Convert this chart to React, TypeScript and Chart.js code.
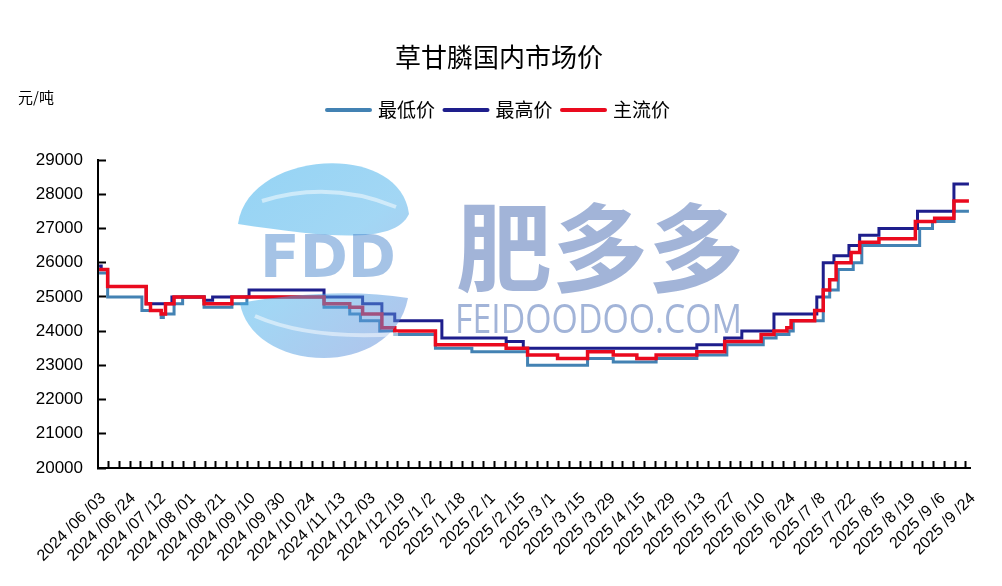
import React, { useEffect, useRef } from 'react';
import { Chart, registerables } from 'chart.js';

Chart.register(...registerables);

const chartTitle = '草甘膦国内市场价';
const unitLabel = '元/吨';
const seriesNames = ['最低价', '最高价', '主流价'];
const seriesColors = ['#4382B3', '#1E1E8C', '#EA0A1E'];
const seriesWidths = [3, 3, 3.5];

const dateLabels = [
  '2024/06/03', '2024/06/24', '2024/07/12', '2024/08/01', '2024/08/21', '2024/09/10',
  '2024/09/30', '2024/10/24', '2024/11/13', '2024/12/03', '2024/12/19', '2025/1/2',
  '2025/1/18', '2025/2/1', '2025/2/15', '2025/3/1', '2025/3/15', '2025/3/29',
  '2025/4/15', '2025/4/29', '2025/5/13', '2025/5/27', '2025/6/10', '2025/6/24',
  '2025/7/8', '2025/7/22', '2025/8/5', '2025/8/19', '2025/9/6', '2025/9/24',
];
const slotCount = 407; // daily category slots on the axis
const labelStep = 14; // one date label every 14 slots
const tickStep = 5; // one tick mark every 5 slots

const yMin = 20000;
const yMax = 29000;
const yStep = 1000;

// change points: [slot, price from that slot on]
const lowSteps: [number, number][] = [
  [0, 25700], [4, 25000], [20, 24600], [29, 24400], [30, 24500], [35, 24800],
  [39, 25000], [49, 24700], [62, 24800], [69, 25000], [105, 24700], [117, 24500], [122, 24300],
  [131, 24000], [138, 23900], [157, 23500], [174, 23400], [200, 23000], [228, 23200], [240, 23100],
  [260, 23200], [279, 23300], [293, 23600], [310, 23800], [316, 23900], [322, 24000],
  [324, 24300], [338, 25000], [341, 25200], [345, 25800], [352, 26000], [356, 26500],
  [383, 27000], [389, 27200], [399, 27500], [406, 27500],
];
const highSteps: [number, number][] = [
  [0, 25900], [1, 25800], [4, 25300], [22, 24800], [34, 25000], [49, 24900], [53, 25000],
  [70, 25200], [105, 25000], [123, 24800], [132, 24500], [138, 24300], [160, 23800],
  [190, 23700], [198, 23500], [279, 23600], [292, 23800], [300, 24000], [315, 24500],
  [335, 25000], [338, 26000], [343, 26200], [350, 26500], [355, 26800], [364, 27000],
  [382, 27500], [399, 28300], [406, 28300],
];
const mainSteps: [number, number][] = [
  [0, 25800], [4, 25300], [22, 24800], [24, 24600], [29, 24500], [31, 24800], [35, 25000],
  [49, 24800], [62, 25000], [105, 24800], [117, 24700], [123, 24500], [132, 24100],
  [138, 24000], [157, 23600], [190, 23500], [200, 23300], [214, 23200], [228, 23400],
  [240, 23300], [251, 23200], [260, 23300], [279, 23400], [292, 23700], [309, 23900],
  [315, 24000], [321, 24100], [323, 24300], [334, 24600], [338, 25200], [341, 25500],
  [344, 26000], [351, 26300], [355, 26600], [364, 26700], [381, 27200], [390, 27300],
  [399, 27800], [406, 27800],
];

const seriesSteps = [lowSteps, highSteps, mainSteps];

const labelSlots = dateLabels.map((_, i) => i * labelStep);
const boundarySlots: number[] = [];
for (let b = tickStep; b < slotCount; b += tickStep) boundarySlots.push(b - 0.5);
const xTickValues = [...labelSlots, ...boundarySlots].sort((a, b) => a - b);

const labelText = (v: number) => {
  if (!Number.isInteger(v) || v % labelStep !== 0) return '';
  const s = dateLabels[v / labelStep];
  return s ? s.split('/').join(' /') : '';
};

const CJK = '"Noto Sans CJK SC", "Noto Sans", sans-serif';
const NUM = '"Liberation Sans", Arial, sans-serif';

function drawWatermark(ctx: CanvasRenderingContext2D) {
  ctx.save();
  ctx.globalAlpha = 0.5;
  const grad = ctx.createLinearGradient(240, 165, 405, 355);
  grad.addColorStop(0, 'rgb(45,170,235)');
  grad.addColorStop(0.5, 'rgb(70,175,235)');
  grad.addColorStop(1, 'rgb(100,135,215)');
  // top leaf
  ctx.beginPath();
  ctx.moveTo(238, 224);
  ctx.bezierCurveTo(248, 150, 400, 140, 409, 214);
  ctx.bezierCurveTo(395, 244, 330, 238, 238, 224);
  ctx.closePath();
  ctx.fillStyle = grad;
  ctx.fill();
  ctx.strokeStyle = '#fff';
  ctx.lineWidth = 4;
  ctx.beginPath();
  ctx.moveTo(262, 201);
  ctx.quadraticCurveTo(330, 180, 396, 207);
  ctx.stroke();
  // bottom bowl
  ctx.beginPath();
  ctx.moveTo(240, 303);
  ctx.bezierCurveTo(300, 292, 360, 290, 408, 298);
  ctx.bezierCurveTo(400, 340, 360, 358, 324, 358);
  ctx.bezierCurveTo(280, 358, 245, 335, 240, 303);
  ctx.closePath();
  ctx.fillStyle = grad;
  ctx.fill();
  ctx.strokeStyle = '#fff';
  ctx.lineWidth = 4;
  ctx.beginPath();
  ctx.moveTo(255, 316);
  ctx.quadraticCurveTo(310, 340, 398, 334);
  ctx.stroke();
  // FDD
  ctx.font = 'bold 58px "DejaVu Sans", sans-serif';
  ctx.textAlign = 'center';
  ctx.textBaseline = 'middle';
  ctx.fillStyle = 'rgb(75,135,205)';
  ctx.fillText('FDD', 328, 262);
  // brand
  ctx.fillStyle = 'rgb(69,105,177)';
  ctx.font = `bold 96px ${CJK}`;
  ctx.textAlign = 'center';
  ctx.textBaseline = 'middle';
  ctx.fillText('肥多多', 600, 248);
  ctx.font = `400 40px "Open Sans", sans-serif`;
  ctx.textAlign = 'left';
  ctx.textBaseline = 'alphabetic';
  const t = 'FEIDOODOO.COM';
  const w = ctx.measureText(t).width;
  ctx.save();
  ctx.translate(455, 333);
  ctx.scale(287 / w, 1);
  ctx.fillText(t, 0, 0);
  ctx.restore();
  ctx.restore();
}

const decorPlugin = {
  id: 'decor',
  afterDatasetsDraw(chart: any) {
    drawWatermark(chart.ctx);
  },
  afterDraw(chart: any) {
    const ctx: CanvasRenderingContext2D = chart.ctx;
    ctx.save();
    ctx.fillStyle = '#000';
    ctx.textBaseline = 'middle';
    ctx.textAlign = 'center';
    ctx.font = `26px ${CJK}`;
    ctx.fillText(chartTitle, 499, 57);
    ctx.textAlign = 'left';
    ctx.font = `15px ${CJK}`;
    ctx.fillText(unitLabel, 18, 97);
    ctx.font = `19px ${CJK}`;
    seriesNames.forEach((name, i) => {
      const x = 325 + i * 117.5;
      ctx.strokeStyle = seriesColors[i];
      ctx.lineWidth = 4;
      ctx.lineCap = 'round';
      ctx.beginPath();
      ctx.moveTo(x + 2, 110);
      ctx.lineTo(x + 45, 110);
      ctx.stroke();
      ctx.fillStyle = '#000';
      ctx.fillText(name, x + 53, 110);
    });
    ctx.restore();
  },
};

export default function App() {
  const ref = useRef<HTMLCanvasElement>(null);
  useEffect(() => {
    if (!ref.current) return;
    const order = [2, 1, 0];
    const chart = new Chart(ref.current, {
      type: 'line',
      data: {
        datasets: seriesNames.map((name, i) => ({
          label: name,
          data: seriesSteps[i].map(([x, y]) => ({ x, y })),
          borderColor: seriesColors[i],
          backgroundColor: seriesColors[i],
          borderWidth: seriesWidths[i],
          pointRadius: 0,
          stepped: 'before' as const,
          fill: false,
          order: order[i],
        })),
      },
      options: {
        responsive: false,
        animation: false,
        layout: { padding: { top: 160, right: 32, left: 0, bottom: 0 } },
        plugins: {
          legend: { display: false },
          title: { display: false },
          tooltip: { enabled: false },
        },
        scales: {
          x: {
            type: 'linear',
            min: -0.5,
            max: slotCount - 0.5,
            afterBuildTicks: (s: any) => {
              s.ticks = xTickValues.map((v) => ({ value: v }));
            },
            afterFit: (s: any) => {
              s.height = 118;
              s.paddingLeft = 0;
              s.paddingRight = 0;
            },
            ticks: {
              autoSkip: false,
              minRotation: 45,
              maxRotation: 45,
              padding: 28,
              labelOffset: 4,
              color: '#000',
              font: { family: NUM, size: 16 },
              callback: (v: any) => labelText(Number(v)),
            },
            grid: {
              drawOnChartArea: false,
              drawTicks: true,
              tickLength: -7,
              tickWidth: 2,
              tickColor: (ctx: any) =>
                ctx.tick && !Number.isInteger(ctx.tick.value) ? '#000' : 'rgba(0,0,0,0)',
            },
            border: { display: true, color: '#000', width: 2 },
          },
          y: {
            min: yMin,
            max: yMax,
            afterFit: (s: any) => {
              s.width = 98;
            },
            ticks: {
              stepSize: yStep,
              padding: 23,
              color: '#000',
              font: { family: NUM, size: 17 },
              callback: (v: any) => String(v),
            },
            grid: {
              drawOnChartArea: false,
              drawTicks: true,
              tickLength: -8,
              tickWidth: 2,
              tickColor: '#000',
            },
            border: { display: true, color: '#000', width: 2 },
          },
        },
      },
      plugins: [decorPlugin],
    });
    return () => chart.destroy();
  }, []);
  return (
    <div style={{ position: 'absolute', left: 0, top: 0, width: 1002, height: 586, background: '#fff' }}>
      <canvas ref={ref} width={1002} height={586} style={{ display: 'block' }} />
    </div>
  );
}
